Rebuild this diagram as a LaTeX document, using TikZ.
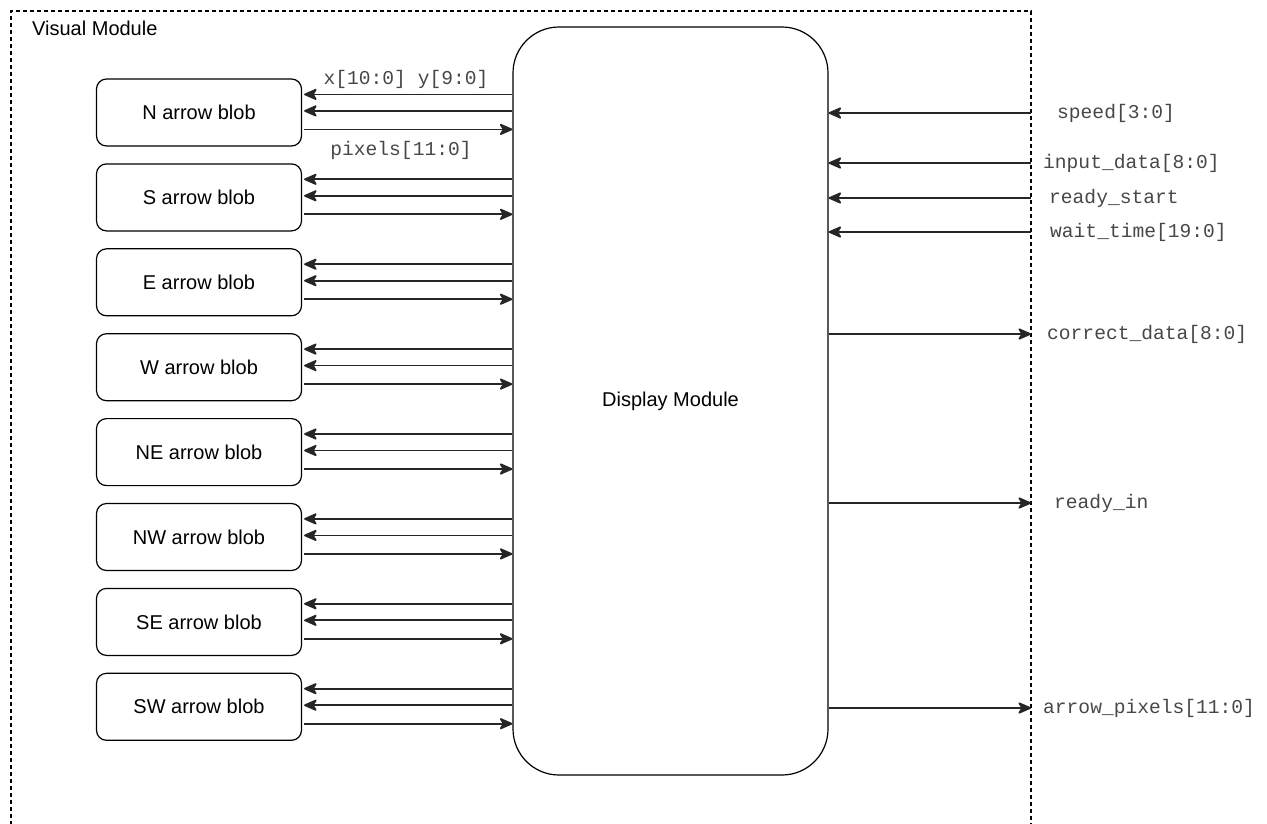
\documentclass[tikz,border=0pt]{standalone}
\usepackage{fontspec}
\setmainfont{Liberation Sans}
\newfontfamily\sigfont{Liberation Mono}
\usetikzlibrary{arrows.meta,calc}

\tikzset{
  wire/.style={line width=1.7pt, draw=black!85,
    -{Stealth[length=15pt,width=13pt,inset=4pt,round]}},
  blob/.style={draw, line width=1.2pt, rounded corners=10pt,
    minimum width=205pt, minimum height=67pt, inner sep=0pt,
    font=\fontsize{20}{24}\selectfont},
  dispbox/.style={draw, line width=1.2pt, rounded corners=46pt,
    minimum width=315pt, minimum height=748pt, inner sep=0pt,
    font=\fontsize{20}{24}\selectfont},
  sig/.style={anchor=west, inner sep=0pt, text=black!72,
    font=\sigfont\fontsize{19.6}{24}\selectfont},
  border/.style={line width=1.2pt, dash pattern=on 4pt off 3pt}
}

\begin{document}
\begin{tikzpicture}[x=1pt,y=-1pt]
\useasboundingbox (0,0) rectangle (1267,823);

% enclosing module boundary (open at the bottom)
\draw[border] (11,860) -- (11,11) -- (1031,11) -- (1031,860);
\node[anchor=west, inner sep=0pt, font=\fontsize{20}{24}\selectfont] (title) at (32,28) {Visual Module};
\coordinate (edge) at (1031,0);

% display module
\node[dispbox] (disp) at (670.5,401) {Display Module};

% arrow blobs
\foreach \n/\lab [count=\i from 0] in {bN/N,bS/S,bE/E,bW/W,bNE/NE,bNW/NW,bSE/SE,bSW/SW}{
  \node[blob] (\n) at (199,{112.5+84.9*\i}) {\lab\ arrow blob};
  \draw[wire] (disp.west |- {$(\n.north)+(0,16)$}) -- ($(\n.east |- {$(\n.north)+(0,16)$})+(2,0)$);
  \draw[wire] (disp.west |- {$(\n.north)+(0,32.5)$}) -- ($(\n.east |- {$(\n.north)+(0,32.5)$})+(2,0)$);
  \draw[wire] ($(\n.east |- {$(\n.north)+(0,51)$})+(2,0)$) -- (disp.west |- {$(\n.north)+(0,51)$});
}

% bus labels on the first blob
\node[sig, anchor=center] (xy) at (406,79) {x[10:0] y[9:0]};
\node[sig, anchor=center] (pix) at (401,150) {pixels[11:0]};

% inputs
\node[sig] (speed) at (1057,113) {speed[3:0]};
\node[sig] (indata) at (1043,163) {input\_data[8:0]};
\node[sig] (rstart) at (1049,198) {ready\_start};
\node[sig] (wtime) at (1050,232) {wait\_time[19:0]};
\foreach \s in {speed,indata,rstart,wtime}
  \draw[wire] (edge |- \s.west) -- (disp.east |- \s.west);

% outputs
\node[sig] (cdata) at (1047,334) {correct\_data[8:0]};
\node[sig] (rin) at (1054,503) {ready\_in};
\node[sig] (apix) at (1043,708) {arrow\_pixels[11:0]};
\foreach \s in {cdata,rin,apix}
  \draw[wire] (disp.east |- \s.west) -- (edge |- \s.west);
\end{tikzpicture}
\end{document}
